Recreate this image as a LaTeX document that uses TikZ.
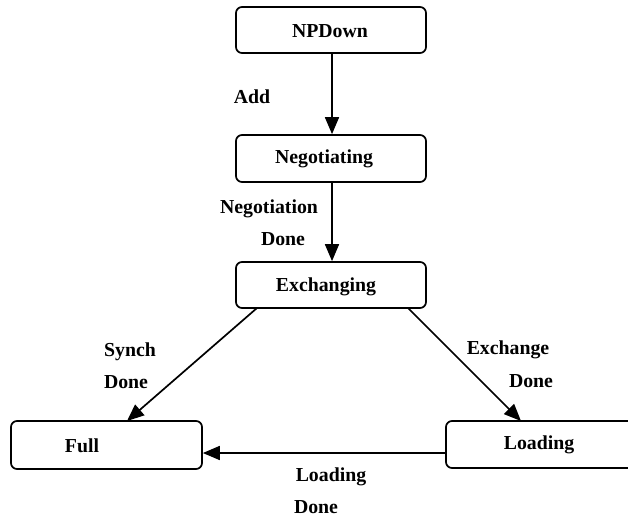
\documentclass[tikz,border=0pt]{standalone}
\usepackage{fontspec}
\setmainfont{Liberation Serif}
\usetikzlibrary{arrows.meta}
\begin{document}
\begin{tikzpicture}[x=1pt,y=-1pt,
  stbox/.style={draw, line width=1.7pt, rounded corners=6pt, inner sep=0pt},
  txt/.style={font=\fontsize{19.8}{22}\selectfont\bfseries, inner sep=0pt},
  trans/.style={draw, line width=1.7pt, -{Triangle[length=17pt,width=14pt]}}]
  \useasboundingbox (0,0) rectangle (628,517);
  \begin{scope}
  \clip (0,0) rectangle (628,517);
  % state boxes
  \node[stbox, minimum width=190pt, minimum height=46pt] (np) at (331,30) {};
  \node[stbox, minimum width=190pt, minimum height=47pt] (neg) at (331,158.5) {};
  \node[stbox, minimum width=190pt, minimum height=46pt] (ex) at (331,285) {};
  \node[stbox, minimum width=191pt, minimum height=48pt] (full) at (106.5,445) {};
  \node[stbox, minimum width=188pt, minimum height=47pt] (load) at (540,444.5) {};
  \end{scope}
  % state names
  \node[txt] (npT) at (330,31) {NPDown};
  \node[txt] (negT) at (324,159) {Negotiating};
  \node[txt] (exT) at (326,287) {Exchanging};
  \node[txt] (fullT) at (82,446) {Full};
  \node[txt] (loadT) at (539,445) {Loading};
  % transitions
  \draw[trans] (np.south -| 332,0) -- (neg.north -| 332,0);
  \draw[trans] (neg.south -| 332,0) -- (ex.north -| 332,0);
  \coordinate (exL) at (257,308);
  \coordinate (fullTop) at (127,421);
  \draw[trans] (exL) -- (fullTop);
  \coordinate (exR) at (408,308);
  \coordinate (loadTop) at (521,421);
  \draw[trans] (exR) -- (loadTop);
  \draw[trans] (load.west |- 0,453) -- (full.east |- 0,453);
  % transition labels
  \node[txt] (lAdd) at (252,97) {Add};
  \node[txt] (lNeg1) at (269,209) {Negotiation};
  \node[txt] (lNeg2) at (283,239) {Done};
  \node[txt] (lSy1) at (130,352) {Synch};
  \node[txt] (lSy2) at (126,382) {Done};
  \node[txt] (lEx1) at (508,350) {Exchange};
  \node[txt] (lEx2) at (531,381) {Done};
  \node[txt] (lLd1) at (331,477) {Loading};
  \node[txt] (lLd2) at (316,507) {Done};
\end{tikzpicture}
\end{document}
